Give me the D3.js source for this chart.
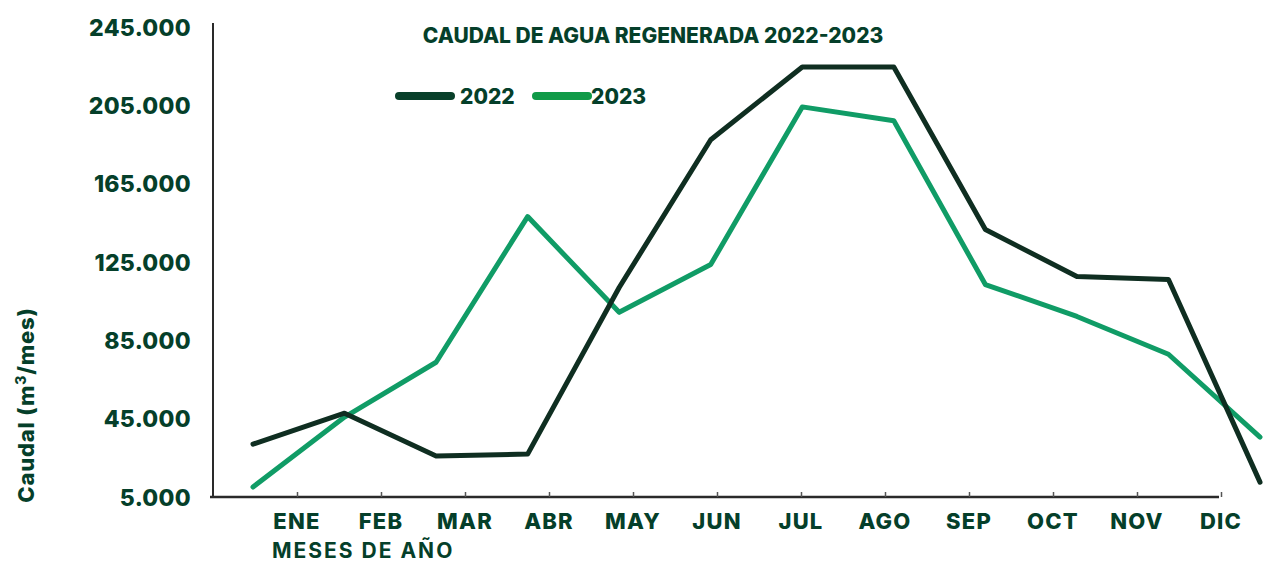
<!DOCTYPE html>
<html>
<head>
<meta charset="utf-8">
<script src="https://cdn.jsdelivr.net/npm/d3@7"></script>
<style>
  html, body { margin: 0; padding: 0; background: #fff; }
  svg text { font-family: Inter, "Open Sans", sans-serif; fill: #053f2a; }
</style>
</head>
<body>
<div id="chart"></div>
<script>
(function () {
  // data
  const months = ["ENE", "FEB", "MAR", "ABR", "MAY", "JUN", "JUL", "AGO", "SEP", "OCT", "NOV", "DIC"];
  const caudal2022 = [32000, 47800, 25900, 26900, 112000, 187400, 224600, 224600, 141600, 117600, 116100, 12600];
  const caudal2023 = [10100, 45800, 73800, 148200, 99300, 123700, 204200, 197100, 113500, 97200, 77900, 35600];
  const yTicks = [5000, 45000, 85000, 125000, 165000, 205000, 245000];
  const seriesNames = ["2022", "2023"];

  const width = 1276, height = 563;
  const colors = { "2022": "#0f2e21", "2023": "#109c66" };

  const svg = d3.select("#chart").append("svg")
    .attr("width", width)
    .attr("height", height);

  // scales
  const y = d3.scaleLinear().domain([5000, 245000]).range([497, 27]);
  const xTick = d3.scalePoint().domain(months).range([297, 1221]);
  const xLine = d3.scalePoint().domain(months).range([253, 1260]);

  const es = d3.formatLocale({ decimal: ",", thousands: ".", grouping: [3], currency: ["", "€"] });
  const fmt = es.format(",");

  // y labels
  const yAxis = svg.append("g")
    .attr("transform", "translate(191,0)")
    .call(d3.axisLeft(y).tickValues(yTicks).tickSize(0).tickPadding(0).tickFormat(fmt));
  yAxis.select(".domain").remove();
  yAxis.selectAll("text")
    .style("font-size", "23px")
    .style("font-weight", 800)
    .style("letter-spacing", "0.3px")
    .attr("dy", "0.36em")
    .attr("fill", "#053f2a");

  // axis lines
  svg.append("line")
    .attr("x1", 213).attr("x2", 213)
    .attr("y1", y(245000) - 4).attr("y2", y(5000) + 1)
    .attr("stroke", "#2a2a2a").attr("stroke-width", 2);

  const xAxis = svg.append("g")
    .attr("transform", `translate(0,${y(5000)})`)
    .call(d3.axisTop(xTick).tickSize(5).tickFormat(""));
  xAxis.select(".domain")
    .attr("d", `M210,0H${xTick("DIC") - 2}`)
    .attr("stroke", "#2a2a2a").attr("stroke-width", 2.5);
  xAxis.selectAll(".tick line").attr("stroke", "#555").attr("stroke-width", 1.5);

  // month labels
  svg.append("g")
    .selectAll("text")
    .data(months)
    .join("text")
    .attr("x", d => xTick(d))
    .attr("y", 529)
    .attr("text-anchor", "middle")
    .style("font-size", "22px")
    .style("font-weight", 800)
    .style("letter-spacing", "1.2px")
    .text(d => d);

  svg.append("text")
    .attr("x", 272)
    .attr("y", 558)
    .style("font-size", "21px")
    .style("font-weight", 700)
    .style("letter-spacing", "2px")
    .text("MESES DE AÑO");

  svg.append("text")
    .attr("transform", "translate(34,405) rotate(-90)")
    .attr("text-anchor", "middle")
    .style("font-size", "22px")
    .style("font-weight", 800)
    .style("letter-spacing", "0.8px")
    .html("Caudal (m<tspan baseline-shift='super' font-size='14px'>3</tspan>/mes)");

  // title
  svg.append("text")
    .attr("x", 653)
    .attr("y", 43)
    .attr("text-anchor", "middle")
    .style("font-size", "21px")
    .style("font-weight", 800)
    .text("CAUDAL DE AGUA REGENERADA 2022-2023");

  // lines
  const line = d3.line()
    .x((d, i) => xLine(months[i]))
    .y(d => y(d));

  const series = [
    { name: "2022", values: caudal2022 },
    { name: "2023", values: caudal2023 }
  ];

  svg.append("g")
    .selectAll("path")
    .data(series.slice().reverse())
    .join("path")
    .attr("d", d => line(d.values))
    .attr("fill", "none")
    .attr("stroke", d => colors[d.name])
    .attr("stroke-width", 5)
    .attr("stroke-linejoin", "round")
    .attr("stroke-linecap", "round");

  // legend
  const legendX = d3.scalePoint().domain(seriesNames).range([399, 536]);
  const legend = svg.append("g")
    .selectAll("g")
    .data(seriesNames)
    .join("g")
    .attr("transform", d => `translate(${legendX(d)},96)`);

  legend.append("line")
    .attr("x1", 0).attr("x2", 52)
    .attr("stroke", d => d === "2022" ? "#08402a" : "#109a48")
    .attr("stroke-width", 8)
    .attr("stroke-linecap", "round");

  legend.append("text")
    .attr("x", d => d === "2022" ? 61 : 55)
    .attr("dy", "0.36em")
    .style("font-size", "21px")
    .style("font-weight", 800)
    .text(d => d);
})();
</script>
</body>
</html>
